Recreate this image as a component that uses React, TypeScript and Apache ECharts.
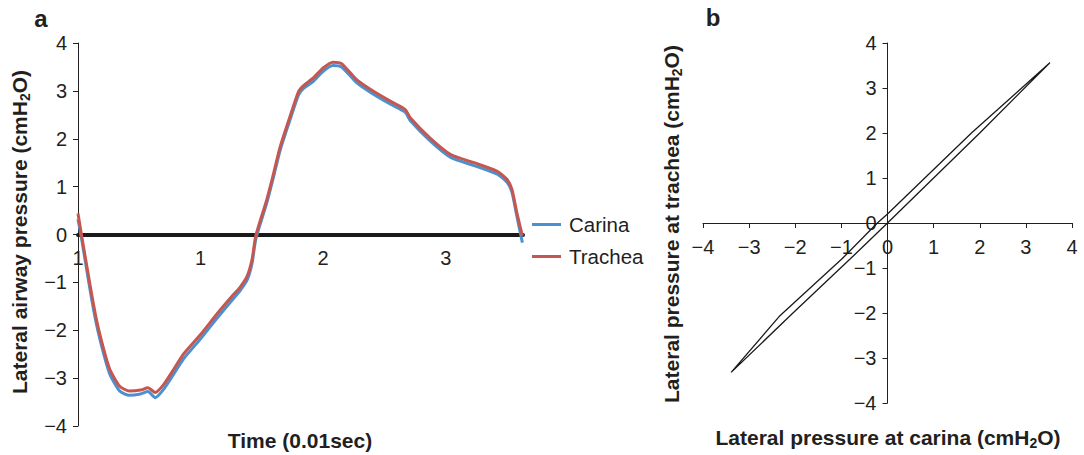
import React, { useEffect, useRef } from "react";
import * as echarts from "echarts";

// Panel a: time course (units of 0.01 sec)
const time = [
  0.0, 0.03, 0.1, 0.15, 0.21, 0.26, 0.34, 0.42, 0.51, 0.57, 0.63, 0.7, 0.78, 0.86, 1.0, 1.13, 1.27, 1.32, 1.38,
  1.42, 1.45, 1.54, 1.59, 1.65, 1.73, 1.8, 1.84, 1.92, 2.0, 2.08, 2.15, 2.27, 2.41, 2.55, 2.67, 2.71, 2.87, 3.04,
  3.23, 3.42, 3.5, 3.54, 3.58, 3.625,
];
const trachea = [
  0.44, -0.03, -1.08, -1.77, -2.4, -2.82, -3.17, -3.27, -3.25, -3.2, -3.3, -3.13, -2.82, -2.5, -2.09, -1.67, -1.25,
  -1.11, -0.87, -0.52, -0.03, 0.73, 1.22, 1.84, 2.47, 2.99, 3.11, 3.27, 3.48, 3.6, 3.57, 3.24, 2.99, 2.78, 2.61, 2.44,
  2.02, 1.67, 1.5, 1.32, 1.15, 0.94, 0.45, -0.03,
];
const carina = [
  0.32, -0.1, -1.18, -1.87, -2.5, -2.92, -3.27, -3.36, -3.33, -3.28, -3.41, -3.23, -2.92, -2.6, -2.18, -1.76, -1.33,
  -1.18, -0.95, -0.6, -0.1, 0.66, 1.15, 1.77, 2.4, 2.92, 3.05, 3.2, 3.41, 3.53, 3.5, 3.18, 2.93, 2.72, 2.55, 2.38,
  1.96, 1.61, 1.44, 1.26, 1.09, 0.88, 0.38, -0.17,
];

// Panel b: carina vs trachea loop
const loopCarina = [-3.39, -2.35, -0.98, -0.22, 0, 1.82, 3.52, 2.0, 0, -0.8, -2.09, -3.39];
const loopTrachea = [-3.32, -2.08, -0.79, 0, 0.2, 2.0, 3.56, 2.0, 0, -0.79, -2.04, -3.32];

const xTicksA = ["1", "1", "2", "3"];

const FONT = '"Liberation Sans", Arial, Helvetica, sans-serif';
const INK = "#231f20";
const BLUE = "#4b91cf";
const RED = "#c55650";

const minus = (v: number) => String(v).replace("-", "\u2212");

function titleText(text: string, x: number, y: number, rotate: boolean) {
  return {
    type: "text",
    x,
    y,
    rotation: rotate ? Math.PI / 2 : 0,
    style: {
      text,
      fontSize: 21,
      fontWeight: "bold",
      fontFamily: FONT,
      fill: INK,
      lineHeight: 26,
      align: "center",
      verticalAlign: "middle",
      rich: {
        sub: { fontSize: 14, fontWeight: "bold", fontFamily: FONT, fill: INK, lineHeight: 14, verticalAlign: "bottom" },
      },
    },
  };
}

export default function App() {
  const ref = useRef<HTMLDivElement>(null);
  useEffect(() => {
    if (!ref.current) return;
    const chart = echarts.init(ref.current, undefined, { renderer: "svg" });
    const tickLabel = { fontSize: 20, color: INK, fontFamily: FONT };
    chart.setOption({
      animation: false,
      backgroundColor: "#ffffff",
      grid: [
        { left: 78, top: 43, width: 445, height: 383 },
        { left: 703, top: 43, width: 369, height: 360 },
      ],
      legend: {
        data: ["Carina", "Trachea"],
        orient: "vertical",
        left: 527,
        top: 209,
        icon: "rect",
        itemWidth: 29,
        itemHeight: 3,
        itemGap: 11,
        textStyle: { ...tickLabel, fontSize: 20.5, lineHeight: 20, padding: [0, 0, 0, 3] },
      },
      xAxis: [
        {
          gridIndex: 0,
          type: "value",
          position: "bottom",
          offset: -191.5,
          min: 0,
          max: 3.63,
          interval: 1,
          axisLine: { onZero: false, lineStyle: { color: "#1a1a1a", width: 4 } },
          axisTick: { show: false },
          splitLine: { show: false },
          axisLabel: {
            ...tickLabel,
            margin: 13,
            formatter: (v: number) => (Number.isInteger(v) && v >= 0 && v < xTicksA.length ? xTicksA[v] : ""),
          },
        },
        {
          gridIndex: 1,
          type: "value",
          position: "bottom",
          offset: -180,
          min: -4,
          max: 4,
          interval: 1,
          axisLine: { onZero: false, lineStyle: { color: INK, width: 1 } },
          axisTick: { length: 5, lineStyle: { color: INK } },
          splitLine: { show: false },
          axisLabel: { ...tickLabel, margin: 14, formatter: minus },
        },
      ],
      yAxis: [
        {
          gridIndex: 0,
          type: "value",
          min: -4,
          max: 4,
          interval: 1,
          axisLine: { show: true, onZero: false, lineStyle: { color: INK, width: 1 } },
          axisTick: { show: true, length: 5, lineStyle: { color: INK } },
          splitLine: { show: false },
          axisLabel: { ...tickLabel, margin: 11, formatter: minus },
        },
        {
          gridIndex: 1,
          type: "value",
          position: "left",
          offset: -184.5,
          min: -4,
          max: 4,
          interval: 1,
          axisLine: { show: true, onZero: false, lineStyle: { color: INK, width: 1 } },
          axisTick: { show: true, length: 5, lineStyle: { color: INK } },
          splitLine: { show: false },
          axisLabel: { ...tickLabel, margin: 11, formatter: minus },
        },
      ],
      series: [
        {
          name: "Carina",
          type: "line",
          xAxisIndex: 0,
          yAxisIndex: 0,
          data: time.map((t, i) => [t, carina[i]]),
          symbol: "none",
          smooth: 0.2,
          color: BLUE,
          lineStyle: { color: BLUE, width: 3 },
        },
        {
          name: "Trachea",
          type: "line",
          xAxisIndex: 0,
          yAxisIndex: 0,
          data: time.map((t, i) => [t, trachea[i]]),
          symbol: "none",
          smooth: 0.2,
          color: RED,
          lineStyle: { color: RED, width: 3 },
        },
        {
          name: "Loop",
          type: "line",
          xAxisIndex: 1,
          yAxisIndex: 1,
          data: loopCarina.map((c, i) => [c, loopTrachea[i]]),
          symbol: "none",
          color: "#1a1a1a",
          lineStyle: { color: "#1a1a1a", width: 1.3 },
        },
      ],
      graphic: [
        {
          type: "text",
          x: 41,
          y: 18,
          style: { text: "a", fontSize: 24, fontWeight: "bold", fontFamily: FONT, fill: INK, align: "center", verticalAlign: "middle" },
        },
        {
          type: "text",
          x: 713,
          y: 17,
          style: { text: "b", fontSize: 24, fontWeight: "bold", fontFamily: FONT, fill: INK, align: "center", verticalAlign: "middle" },
        },
        titleText("Lateral airway pressure (cmH{sub|2}O)", 19, 232, true),
        titleText("Time (0.01sec)", 300, 440, false),
        titleText("Lateral pressure at trachea (cmH{sub|2}O)", 671, 224, true),
        titleText("Lateral pressure at carina (cmH{sub|2}O)", 888, 437, false),
      ],
    });
    return () => chart.dispose();
  }, []);
  return <div ref={ref} style={{ position: "fixed", left: 0, top: 0, width: 1084, height: 455 }} />;
}
